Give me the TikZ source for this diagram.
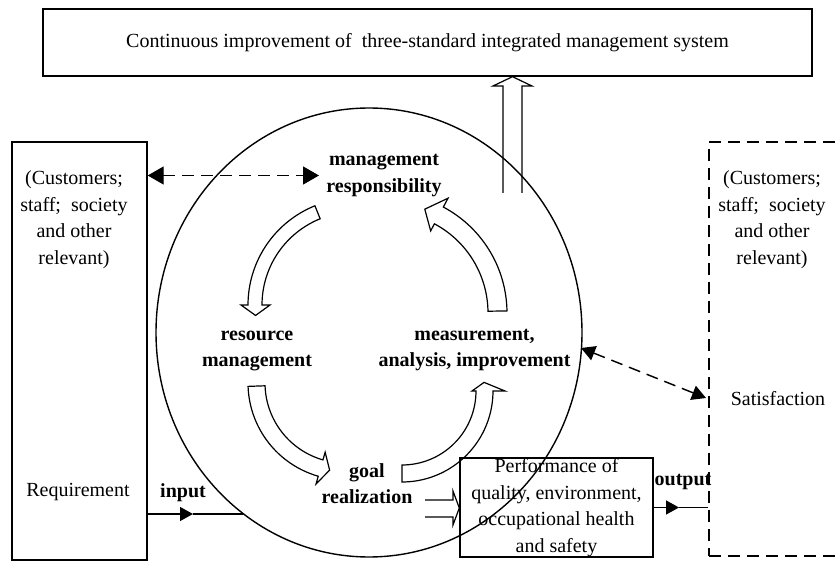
\documentclass[tikz,border=0pt]{standalone}
\usepackage{fontspec}
\setmainfont{Liberation Serif}
\usetikzlibrary{arrows.meta,shapes.geometric}
\newcommand\cvarrow[9]{%
 \draw[blockarr] plot[domain=#5:#6,samples=40,smooth] ({#1+(#4)*cos(\x)},{#2+(#4)*sin(\x)})
  -- ({#1+(#4+#8)*cos(#6)},{#2+(#4+#8)*sin(#6)})
  -- ({#1+(#3+#4)/2*cos((#6)+(#9))},{#2+(#3+#4)/2*sin((#6)+(#9))})
  -- ({#1+(#3-#7)*cos(#6)},{#2+(#3-#7)*sin(#6)})
  -- plot[domain=#6:#5,samples=40,smooth] ({#1+(#3)*cos(\x)},{#2+(#3)*sin(\x)})
  -- cycle;}
\begin{document}
\begin{tikzpicture}[x=1pt,y=-1pt,line width=1.4pt,
  box/.style={draw,rectangle,inner sep=0pt},
  txt/.style={inner sep=0pt,align=center,font=\fontsize{20}{26.5}\selectfont},
  btxt/.style={inner sep=0pt,align=center,font=\fontsize{20}{26.5}\selectfont\bfseries},
  dsh/.style={dash pattern=on 12pt off 7pt},
  blockarr/.style={draw,line width=1.2pt,line join=miter},
  bigtip/.style={{Triangle[length=16pt,width=18pt]}-{Triangle[length=16pt,width=18pt]}},
  midtip/.style={-{Triangle[length=13pt,width=14pt]}},
  ]
\useasboundingbox (0,0) rectangle (839,561);
\clip (0,0) rectangle (839,561);

% top box
\node[box,txt,minimum width=769pt,minimum height=67pt] (T) at (427.5,42.5)
  {Continuous improvement of~ three-standard integrated management system};

% left box
\node[box,minimum width=135pt,minimum height=418pt] (L) at (79.5,351) {};
\node[txt] (Ltx) at (74,219.5) {(Customers;\\staff;~ society\\and other\\relevant)};
\node[txt] (Req) at (78,492) {Requirement};

% right dashed box
\node[box,dsh,minimum width=141pt,minimum height=414pt] (R) at (779.5,349) {};
\node[txt] (Rtx) at (772,219.5) {(Customers;\\staff;~ society\\and other\\relevant)};
\node[txt] (Sat) at (778,399) {Satisfaction};

% big circle
\node[draw,ellipse,inner sep=0pt,minimum width=426pt,minimum height=449pt] (C) at (369,332.5) {};

% labels in the circle
\node[btxt] (MR) at (384,175.5) {management\\responsibility};
\node[btxt] (RM) at (257,351) {resource\\management};
\node[btxt] (MA) at (474.5,350) {measurement,\\analysis, improvement};
\node[btxt] (GR) at (367,483.5) {goal\\realization};
\node[btxt] (IN) at (183,493) {input};
\node[btxt] (OUT) at (683,482) {output};

% performance box
\node[box,txt,minimum width=193pt,minimum height=99pt] (P) at (556.5,507.5)
  {Performance of\\quality, environment,\\occupational health\\and safety};

% curved block arrows of the cycle
\cvarrow{355}{305}{93}{107}{248}{180}{8}{7}{-6}
\cvarrow{345}{383}{80}{97}{178}{106}{8}{8}{-6}
\cvarrow{402}{391}{74}{91}{90}{0}{4}{12}{-6}
\cvarrow{387}{313}{101}{120}{-1}{-62}{8}{10}{-8}

% up block arrow to the top box
\draw[blockarr] (503,193) -- (503,86) -- (493,86) -- (T.south -| 512.5,0) -- (532,86) -- (522,86) -- (522,193);

% small block arrow goal -> performance
\draw[blockarr] (425,500) -- (453,500) -- (453,491) -- (P.west |- 0,508) -- (453,525) -- (453,517) -- (425,517);

% dashed double arrows
\coordinate (dA) at (319,175.5);
\draw[dsh,bigtip] (L.east |- MR) -- (dA);
\coordinate (dB1) at (581,348);
\coordinate (dB2) at (706,398);
\draw[dsh,{Triangle[length=14pt,width=15pt]}-{Triangle[length=14pt,width=15pt]}] (dB1) -- (dB2);

% input arrow
\coordinate (inM) at (193,514);
\coordinate (inB) at (243,514);
\draw[midtip] (L.east |- inM) -- (inM);
\draw (inM) -- (inB);

% output arrow
\coordinate (outM) at (679,507.5);
\draw[midtip] (P.east) -- (outM);
\draw (outM) -- (R.west |- outM);
\end{tikzpicture}
\end{document}
